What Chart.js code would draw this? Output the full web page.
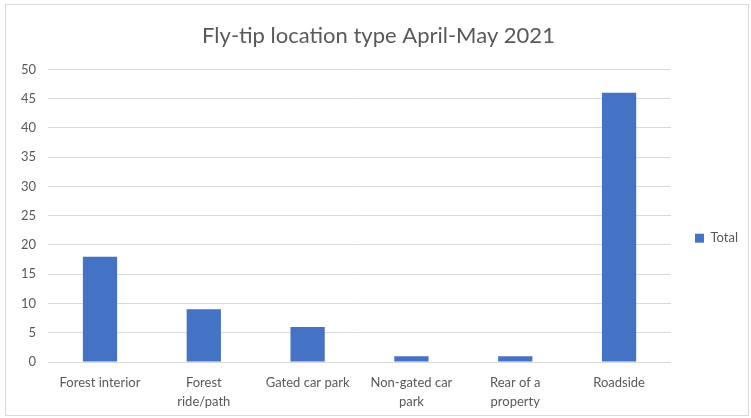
<!DOCTYPE html>
<html>
<head>
<meta charset="utf-8">
<script src="https://cdn.jsdelivr.net/npm/chart.js@4/dist/chart.umd.min.js"></script>
<style>
  body { margin: 0; background: #fff; }
  #box { position: absolute; left: 5px; top: 4px; width: 742px; height: 410px; border: 1px solid #d9d9d9; }
</style>
</head>
<body>
<div id="box"><canvas id="grafica"></canvas></div>
<script>
// fly-tip counts per location type
const categories = [
  'Forest interior',
  ['Forest', 'ride/path'],
  'Gated car park',
  ['Non-gated car', 'park'],
  ['Rear of a', 'property'],
  'Roadside'
];
const totals = [18, 9, 6, 1, 1, 46];
const seriesName = 'Total';
const chartTitle = 'Fly-tip location type April-May 2021';

const font = "Lato, 'Open Sans', sans-serif";
const grey = '#595959';

const graph = document.querySelector('#grafica');
graph.width = 742;
graph.height = 410;

new Chart(graph, {
  type: 'bar',
  data: {
    labels: categories,
    datasets: [{
      label: seriesName,
      data: totals,
      backgroundColor: '#4472c4',
      barPercentage: 0.33,
      categoryPercentage: 1
    }]
  },
  options: {
    responsive: false,
    animation: false,
    layout: { padding: { left: 3, right: 0, top: 12, bottom: 0 } },
    plugins: {
      title: {
        display: true,
        text: chartTitle,
        color: grey,
        font: { family: font, size: 22, weight: 'normal' },
        padding: { top: 6, bottom: 20 }
      },
      legend: {
        position: 'right',
        title: { display: true, text: ' ', padding: { top: 30, bottom: 0 } },
        labels: {
          color: grey,
          font: { family: font, size: 13 },
          boxWidth: 9,
          boxHeight: 9,
          padding: 24
        }
      },
      tooltip: { enabled: false }
    },
    scales: {
      x: {
        grid: { display: false },
        border: { color: '#d9d9d9' },
        ticks: {
          color: grey,
          font: { family: font, size: 13, lineHeight: 1.5 },
          maxRotation: 0,
          autoSkip: false
        }
      },
      y: {
        min: 0,
        max: 50,
        grid: { color: '#d9d9d9', drawTicks: false },
        border: { display: false },
        ticks: {
          stepSize: 5,
          color: grey,
          font: { family: font, size: 13 },
          padding: 12
        }
      }
    }
  }
});
</script>
</body>
</html>
